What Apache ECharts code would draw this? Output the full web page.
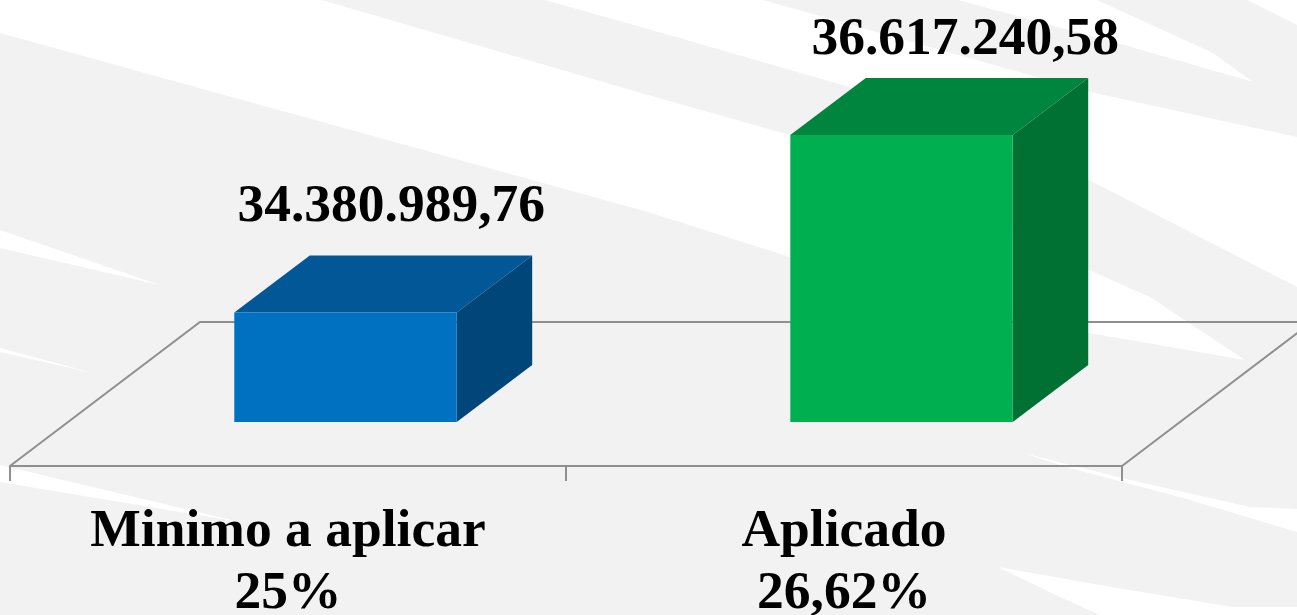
<!DOCTYPE html>
<html>
<head>
<meta charset="utf-8">
<style>html,body{margin:0;padding:0;background:#f2f2f2}#c{width:1297px;height:615px}</style>
<script src="https://cdn.jsdelivr.net/npm/echarts@6/dist/echarts.min.js"></script>
</head>
<body>
<div id="c"></div>
<script>
const categories = ['Minimo a aplicar\n25%', 'Aplicado\n26,62%'];
const values = [34380989.76, 36617240.58];
const valueLabels = ['34.380.989,76', '36.617.240,58'];
const axisMin = 33000000;
const axisMax = 37000000;

const frontColors = ['#0070C0', '#00B050'];
const topColors = ['#025896', '#00853E'];
const sideColors = ['#004679', '#007033'];
const labelShiftX = [8, 26];
const labelLift = [48.5, 38];
const depthX = 75.5, depthY = 57, floorShift = 57.5;
const font = '"Liberation Serif", serif';

const swooshes = [
  [[0,0],[322,0],[648,95],[790,135],[1089,270],[1150,297],[1245,360],[1089,333],[790,257],[648,212],[0,33]],
  [[545,0],[763,0],[1090,92],[1297,137],[1297,287],[1089,180],[853,88],[648,29]],
  [[958,0],[1097,0],[1213,53],[1253,82],[1117,43]],
  [[1247,0],[1297,0],[1297,25]],
  [[0,230],[160,285],[0,248]],
  [[0,348],[93,373],[0,352]],
  [[0,465],[240,522],[0,482]],
  [[1023,453],[1130,480],[1250,507],[1297,509],[1297,532],[1183,498],[1070,468]],
  [[998,567],[1117,588],[1233,607],[1297,607],[1297,615],[1100,615],[1060,597]]
];
const floorOutline = [[10,466],[200,322],[1312,322],[1122,466]];

function renderBar(params, api) {
  const i = api.value(0);
  const top = api.coord([i, api.value(1)]);
  const base = api.coord([i, axisMin]);
  const w = api.size([1, 0])[0] * 0.4;
  const l = base[0] + floorShift - w / 2, r = l + w;
  const t = top[1], b = base[1];
  const poly = (points, fill) => ({ type: 'polygon', shape: { points }, style: { fill } });
  return {
    type: 'group',
    children: [
      poly([[l, t], [l + depthX, t - depthY], [r + depthX, t - depthY], [r, t]], topColors[i]),
      poly([[r, t], [r + depthX, t - depthY], [r + depthX, b - depthY], [r, b]], sideColors[i]),
      poly([[l, t], [r, t], [r, b], [l, b]], frontColors[i]),
      {
        type: 'text',
        style: {
          text: valueLabels[i],
          x: (l + r + depthX) / 2 + labelShiftX[i],
          y: t - depthY - labelLift[i],
          align: 'center',
          verticalAlign: 'middle',
          font: 'bold 53.5px ' + font,
          fill: '#000'
        }
      }
    ]
  };
}

const chart = echarts.init(document.getElementById('c'), null, { renderer: 'canvas' });
chart.setOption({
  animation: false,
  backgroundColor: '#f2f2f2',
  graphic: [
    ...swooshes.map(points => ({
      type: 'polygon', silent: true, z: -10,
      shape: { points }, style: { fill: '#ffffff' }
    })),
    {
      type: 'polyline', silent: true, z: -5,
      shape: { points: floorOutline },
      style: { stroke: '#8f8f8f', lineWidth: 2, fill: null }
    }
  ],
  grid: { left: 10, right: 175, top: 104.6, bottom: 193, containLabel: false, outerBoundsMode: 'none' },
  xAxis: {
    type: 'category',
    data: categories,
    offset: 44,
    axisLine: { show: true, lineStyle: { color: '#8f8f8f', width: 2 } },
    axisTick: { show: true, alignWithLabel: false, length: 15, lineStyle: { color: '#8f8f8f', width: 2 } },
    axisLabel: {
      interval: 0, margin: 35.5, color: '#000',
      fontFamily: font, fontWeight: 'bold', fontSize: 53.5, lineHeight: 62
    }
  },
  yAxis: { type: 'value', min: axisMin, max: axisMax, show: false, splitLine: { show: false } },
  series: [{
    type: 'custom',
    clip: false,
    renderItem: renderBar,
    encode: { x: 0, y: 1 },
    data: values.map((v, i) => [i, v])
  }]
});
</script>
</body>
</html>
